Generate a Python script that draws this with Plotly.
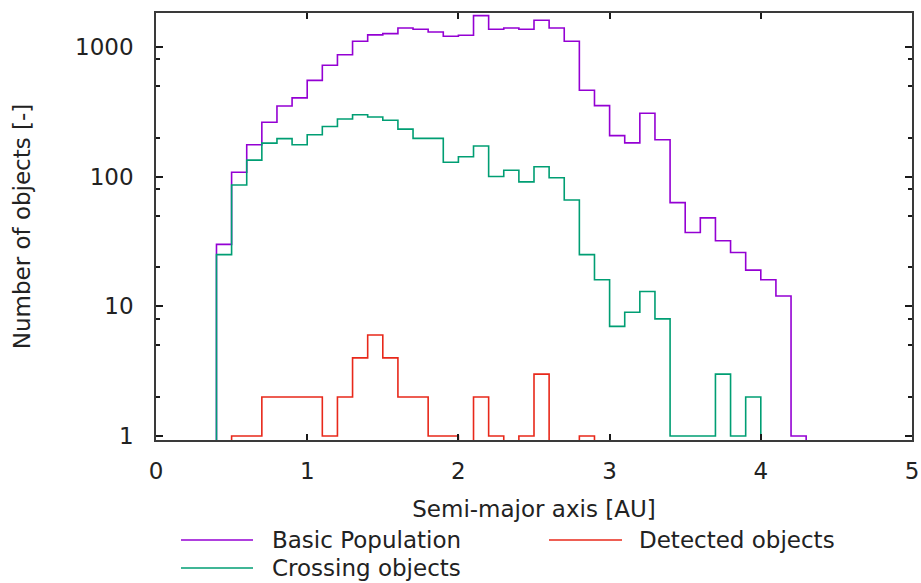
import plotly.graph_objects as go

# Histogram bins: semi-major axis from 0.0 to 5.0 AU in steps of 0.1 AU
bin_width = 0.1
bin_edges = [round(i * bin_width, 1) for i in range(51)]

basic_population = [
    0, 0, 0, 0, 30, 108, 176, 262, 350, 404,
    552, 721, 870, 1105, 1236, 1265, 1399, 1367, 1303, 1207,
    1228, 1741, 1367, 1399, 1367, 1603, 1399, 1105, 463, 352,
    207, 182, 308, 192, 63, 37, 48, 32, 26, 19,
    16, 12, 1, 0, 0, 0, 0, 0, 0, 0,
]
detected_objects = [
    0, 0, 0, 0, 0, 1, 1, 2, 2, 2,
    2, 1, 2, 4, 6, 4, 2, 2, 1, 1,
    0, 2, 1, 0, 1, 3, 0, 0, 1, 0,
    0, 0, 0, 0, 0, 0, 0, 0, 0, 0,
    0, 0, 0, 0, 0, 0, 0, 0, 0, 0,
]
crossing_objects = [
    0, 0, 0, 0, 25, 86, 134, 181, 196, 176,
    210, 243, 278, 300, 288, 272, 232, 197, 197, 129,
    142, 172, 100, 112, 91, 119, 98, 66, 25, 16,
    7, 9, 13, 8, 1, 1, 1, 3, 1, 2,
    0, 0, 0, 0, 0, 0, 0, 0, 0, 0,
]

x_ticks = [0, 1, 2, 3, 4, 5]
y_ticks = [1, 10, 100, 1000]
y_tick_labels = ["1", "10", "100", "1000"]
y_minor_ticks = [2, 5, 8, 20, 50, 80, 200, 500, 800]

series = [
    ("Basic Population", basic_population, "#9400d3"),
    ("Detected objects", detected_objects, "#e8281a"),
    ("Crossing objects", crossing_objects, "#009e73"),
]

FONT = "DejaVu Sans"
TEXT_COLOR = "#222222"
FLOOR = 0.5  # empty bins drop below the visible log range


def step_outline(counts):
    """Outline of a histogram as hv-step points, dropping to the floor outside the data."""
    nz = [i for i, c in enumerate(counts) if c > 0]
    i0, i1 = nz[0], nz[-1]
    xs = [bin_edges[i0]]
    ys = [FLOOR]
    for i in range(i0, i1 + 1):
        xs.append(bin_edges[i])
        ys.append(counts[i] if counts[i] > 0 else FLOOR)
    xs.append(bin_edges[i1 + 1])
    ys.append(FLOOR)
    return xs, ys


fig = go.Figure()
for name, counts, color in series:
    xs, ys = step_outline(counts)
    fig.add_trace(go.Scatter(
        x=xs, y=ys, mode="lines", name=name,
        line=dict(color=color, width=1.6, shape="hv"),
        showlegend=False,
    ))

# Plot area in pixels: left 156, right 912, top 13, bottom 440
L, R, T, B = 156, 912, 13, 440
W, H = 921, 583
pw, ph = R - L, B - T


def px_x(p):
    return (p - L) / pw


def px_y(p):
    return (B - p) / ph


# Legend drawn as sample lines plus labels below the axis title
legend_items = [
    ("Basic Population", "#9400d3", 181, 253, 540, 270),
    ("Detected objects", "#e8281a", 549, 622, 540, 637),
    ("Crossing objects", "#009e73", 181, 253, 568, 270),
]
for label, color, x0, x1, yy, tx in legend_items:
    fig.add_shape(type="line", xref="paper", yref="paper",
                  x0=px_x(x0), x1=px_x(x1), y0=px_y(yy), y1=px_y(yy),
                  line=dict(color=color, width=1.6))
    fig.add_annotation(text=label, xref="paper", yref="paper",
                       x=px_x(tx), y=px_y(yy), xanchor="left", yanchor="middle",
                       showarrow=False, font=dict(family=FONT, size=23, color=TEXT_COLOR))

axis_line = dict(showline=True, linecolor="#3a3a3a", linewidth=1.5, mirror="allticks",
                 ticks="inside", tickcolor="#1a1a1a", tickwidth=1.5,
                 showgrid=False, zeroline=False,
                 tickfont=dict(family=FONT, size=23, color=TEXT_COLOR))

fig.update_xaxes(
    range=[0, 5], tickmode="array", tickvals=x_ticks,
    ticktext=[str(v) for v in x_ticks], ticklen=6,
    title=dict(text="Semi-major axis [AU]", standoff=18,
               font=dict(family=FONT, size=23, color=TEXT_COLOR)),
    ticklabelstandoff=10,
    **axis_line,
)
fig.update_yaxes(
    type="log", range=[-0.031, 3.261], tickmode="array", tickvals=y_ticks,
    ticktext=y_tick_labels, ticklen=7,
    minor=dict(tickmode="array", tickvals=y_minor_ticks, ticks="inside",
               ticklen=4, tickcolor="#1a1a1a", tickwidth=1.5, showgrid=False),
    title=dict(text="Number of objects [-]", standoff=38,
               font=dict(family=FONT, size=23, color=TEXT_COLOR)),
    ticklabelstandoff=16,
    **axis_line,
)

fig.update_layout(
    width=W, height=H,
    margin=dict(l=L, r=W - R, t=T, b=H - B, autoexpand=False),
    paper_bgcolor="white", plot_bgcolor="white",
    font=dict(family=FONT, size=23, color=TEXT_COLOR),
)

fig.write_html("out.html")
